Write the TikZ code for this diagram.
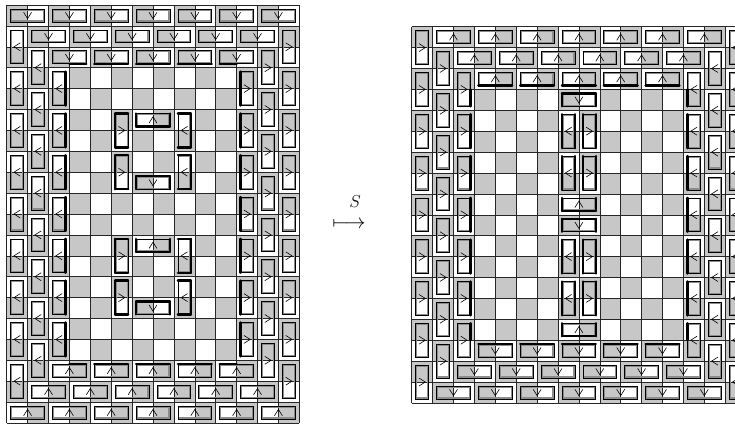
\documentclass[tikz,border=0pt]{standalone}
\begin{document}
\begin{tikzpicture}[x=1pt,y=-1pt,
  cellg/.style={fill=black!22},
  gridl/.style={draw=black!85,line width=0.6pt},
  domout/.style={draw=black,line width=0.7pt},
  domin/.style={draw=black!45,line width=1.3pt},
  thk/.style={draw=black,line width=2.4pt,line cap=round},
  arr/.style={draw=black,line width=0.6pt}]
\useasboundingbox (0,0) rectangle (735,424);
\clip (0,0) rectangle (735,424);
\def\ins{0.19}
\def\insb{0.235}
\pgfkeys{/thH/.cd,
 N/.code={\draw[thk] (\dL,\dT)--(\dR,\dT);},
 N1/.code={\draw[thk] (\dL,\dT)--(\dM,\dT);},
 N2/.code={\draw[thk] (\dM,\dT)--(\dR,\dT);},
 S/.code={\draw[thk] (\dL,\dB)--(\dR,\dB);},
 S1/.code={\draw[thk] (\dL,\dB)--(\dM,\dB);},
 S2/.code={\draw[thk] (\dM,\dB)--(\dR,\dB);},
 W/.code={\draw[thk] (\dL,\dT)--(\dL,\dB);},
 E/.code={\draw[thk] (\dR,\dT)--(\dR,\dB);}}
\pgfkeys{/thV/.cd,
 W/.code={\draw[thk] (\dL,\dT)--(\dL,\dB);},
 W1/.code={\draw[thk] (\dL,\dT)--(\dL,\dM);},
 W2/.code={\draw[thk] (\dL,\dM)--(\dL,\dB);},
 E/.code={\draw[thk] (\dR,\dT)--(\dR,\dB);},
 E1/.code={\draw[thk] (\dR,\dT)--(\dR,\dM);},
 E2/.code={\draw[thk] (\dR,\dM)--(\dR,\dB);},
 N/.code={\draw[thk] (\dL,\dT)--(\dR,\dT);},
 S/.code={\draw[thk] (\dL,\dB)--(\dR,\dB);}}
\pgfkeys{/arw/.cd,
 N/.code={\draw[arr] (\cx-0.19,\cy+0.15)--(\cx,\cy-0.15)--(\cx+0.19,\cy+0.15);},
 S/.code={\draw[arr] (\cx-0.19,\cy-0.15)--(\cx,\cy+0.15)--(\cx+0.19,\cy-0.15);},
 W/.code={\draw[arr] (\cx+0.15,\cy-0.19)--(\cx-0.15,\cy)--(\cx+0.15,\cy+0.19);},
 E/.code={\draw[arr] (\cx-0.15,\cy-0.19)--(\cx+0.15,\cy)--(\cx-0.15,\cy+0.19);}}
\newcommand\Hdom[4]{%
  \pgfmathsetmacro\dL{#1+\ins}\pgfmathsetmacro\dR{#1+2-\ins}%
  \pgfmathsetmacro\dT{#2+\ins}\pgfmathsetmacro\dB{#2+1-\ins}%
  \pgfmathsetmacro\dM{#1+1}%
  \pgfmathsetmacro\cx{#1+1}\pgfmathsetmacro\cy{#2+0.5}%
  \draw[domin] (#1+\insb,#2+\insb) rectangle (#1+2-\insb,#2+1-\insb);
  \draw[domout] (\dL,\dT) rectangle (\dR,\dB);
  \pgfkeys{/thH/.cd,#4}%
  \pgfkeys{/arw/.cd,#3}}
\newcommand\Vdom[4]{%
  \pgfmathsetmacro\dL{#1+\ins}\pgfmathsetmacro\dR{#1+1-\ins}%
  \pgfmathsetmacro\dT{#2+\ins}\pgfmathsetmacro\dB{#2+2-\ins}%
  \pgfmathsetmacro\dM{#2+1}%
  \pgfmathsetmacro\cx{#1+0.5}\pgfmathsetmacro\cy{#2+1}%
  \draw[domin] (#1+\insb,#2+\insb) rectangle (#1+1-\insb,#2+2-\insb);
  \draw[domout] (\dL,\dT) rectangle (\dR,\dB);
  \pgfkeys{/thV/.cd,#4}%
  \pgfkeys{/arw/.cd,#3}}
% ---------------- left board 14 x 20 ----------------
\begin{scope}[shift={(6.7pt,-5pt)},x=20.9pt,y=-20.9pt]
  \foreach \i in {0,...,13}{\foreach \j in {0,...,19}{%
    \pgfmathtruncatemacro\p{mod(\i+\j,2)}%
    \ifnum\p=0 \fill[cellg] (\i,\j) rectangle ++(1,1);\fi}}
  \foreach \i in {0,...,14}{\draw[gridl] (\i,0)--(\i,20);}
  \foreach \j in {0,...,20}{\draw[gridl] (0,\j)--(14,\j);}
  \foreach \i in {0,2,...,12}{\Hdom{\i}{0}{S}{}}
  \foreach \i in {1,3,...,11}{\Hdom{\i}{1}{S}{}}
  \Hdom{2}{2}{S}{S2}
  \foreach \i in {4,6,8}{\Hdom{\i}{2}{S}{S}}
  \Hdom{10}{2}{S}{S1}
  \Hdom{2}{17}{N}{N2}
  \foreach \i in {4,6,8}{\Hdom{\i}{17}{N}{N}}
  \Hdom{10}{17}{N}{N1}
  \foreach \i in {1,3,...,11}{\Hdom{\i}{18}{N}{}}
  \foreach \i in {0,2,...,12}{\Hdom{\i}{19}{N}{}}
  \foreach \j in {1,3,...,17}{\Vdom{0}{\j}{W}{}}
  \foreach \j in {2,4,...,16}{\Vdom{1}{\j}{W}{}}
  \foreach \j in {3,5,...,15}{\Vdom{2}{\j}{W}{E}}
  \foreach \j in {3,5,...,15}{\Vdom{11}{\j}{E}{W}}
  \foreach \j in {2,4,...,16}{\Vdom{12}{\j}{E}{}}
  \foreach \j in {1,3,...,17}{\Vdom{13}{\j}{E}{}}
  \foreach \r in {5,11}{%
    \pgfmathtruncatemacro\rr{\r+2}\pgfmathtruncatemacro\rrr{\r+3}%
    \Vdom{5}{\r}{E}{N,W,S}
    \Vdom{5}{\rr}{E}{N,W,S}
    \Vdom{8}{\r}{W}{N,E,S}
    \Vdom{8}{\rr}{W}{N,E,S}
    \Hdom{6}{\r}{N}{W,S,E}
    \Hdom{6}{\rrr}{S}{W,N,E}}
\end{scope}
% ---------------- right board 16 x 18 ----------------
\begin{scope}[shift={(411.7pt,-26.7pt)},x=20.9pt,y=-20.9pt]
  \foreach \i in {0,...,15}{\foreach \j in {0,...,17}{%
    \pgfmathtruncatemacro\p{mod(\i+\j,2)}%
    \ifnum\p=0 \fill[cellg] (\i,\j) rectangle ++(1,1);\fi}}
  \foreach \i in {0,...,16}{\draw[gridl] (\i,0)--(\i,18);}
  \foreach \j in {0,...,18}{\draw[gridl] (0,\j)--(16,\j);}
  \foreach \i in {1,3,...,13}{\Hdom{\i}{0}{N}{}}
  \foreach \i in {2,4,...,12}{\Hdom{\i}{1}{N}{}}
  \foreach \i in {3,5,...,11}{\Hdom{\i}{2}{N}{S}}
  \foreach \i in {3,5,...,11}{\Hdom{\i}{15}{S}{N}}
  \foreach \i in {2,4,...,12}{\Hdom{\i}{16}{S}{}}
  \foreach \i in {1,3,...,13}{\Hdom{\i}{17}{S}{}}
  \foreach \j in {0,2,...,16}{\Vdom{0}{\j}{E}{}}
  \foreach \j in {1,3,...,15}{\Vdom{1}{\j}{E}{}}
  \Vdom{2}{2}{E}{E2}
  \foreach \j in {4,6,...,12}{\Vdom{2}{\j}{E}{E}}
  \Vdom{2}{14}{E}{E1}
  \Vdom{13}{2}{W}{W2}
  \foreach \j in {4,6,...,12}{\Vdom{13}{\j}{W}{W}}
  \Vdom{13}{14}{W}{W1}
  \foreach \j in {1,3,...,15}{\Vdom{14}{\j}{W}{}}
  \foreach \j in {0,2,...,16}{\Vdom{15}{\j}{W}{}}
  \Hdom{7}{3}{S}{N,W,E}
  \foreach \j in {4,6,10,12}{\Vdom{7}{\j}{W}{W,E}\Vdom{8}{\j}{E}{W,E}}
  \Hdom{7}{8}{N}{S,W,E}
  \Hdom{7}{9}{S}{N,W,E}
  \Hdom{7}{14}{N}{S,W,E}
\end{scope}
\node[inner sep=0pt] (labS) at (355,202) {\fontsize{18}{20}\selectfont$S$};
\node[inner sep=0pt] (lab) at (349,225) {\fontsize{20}{24}\selectfont$\longmapsto$};
\end{tikzpicture}
\end{document}
